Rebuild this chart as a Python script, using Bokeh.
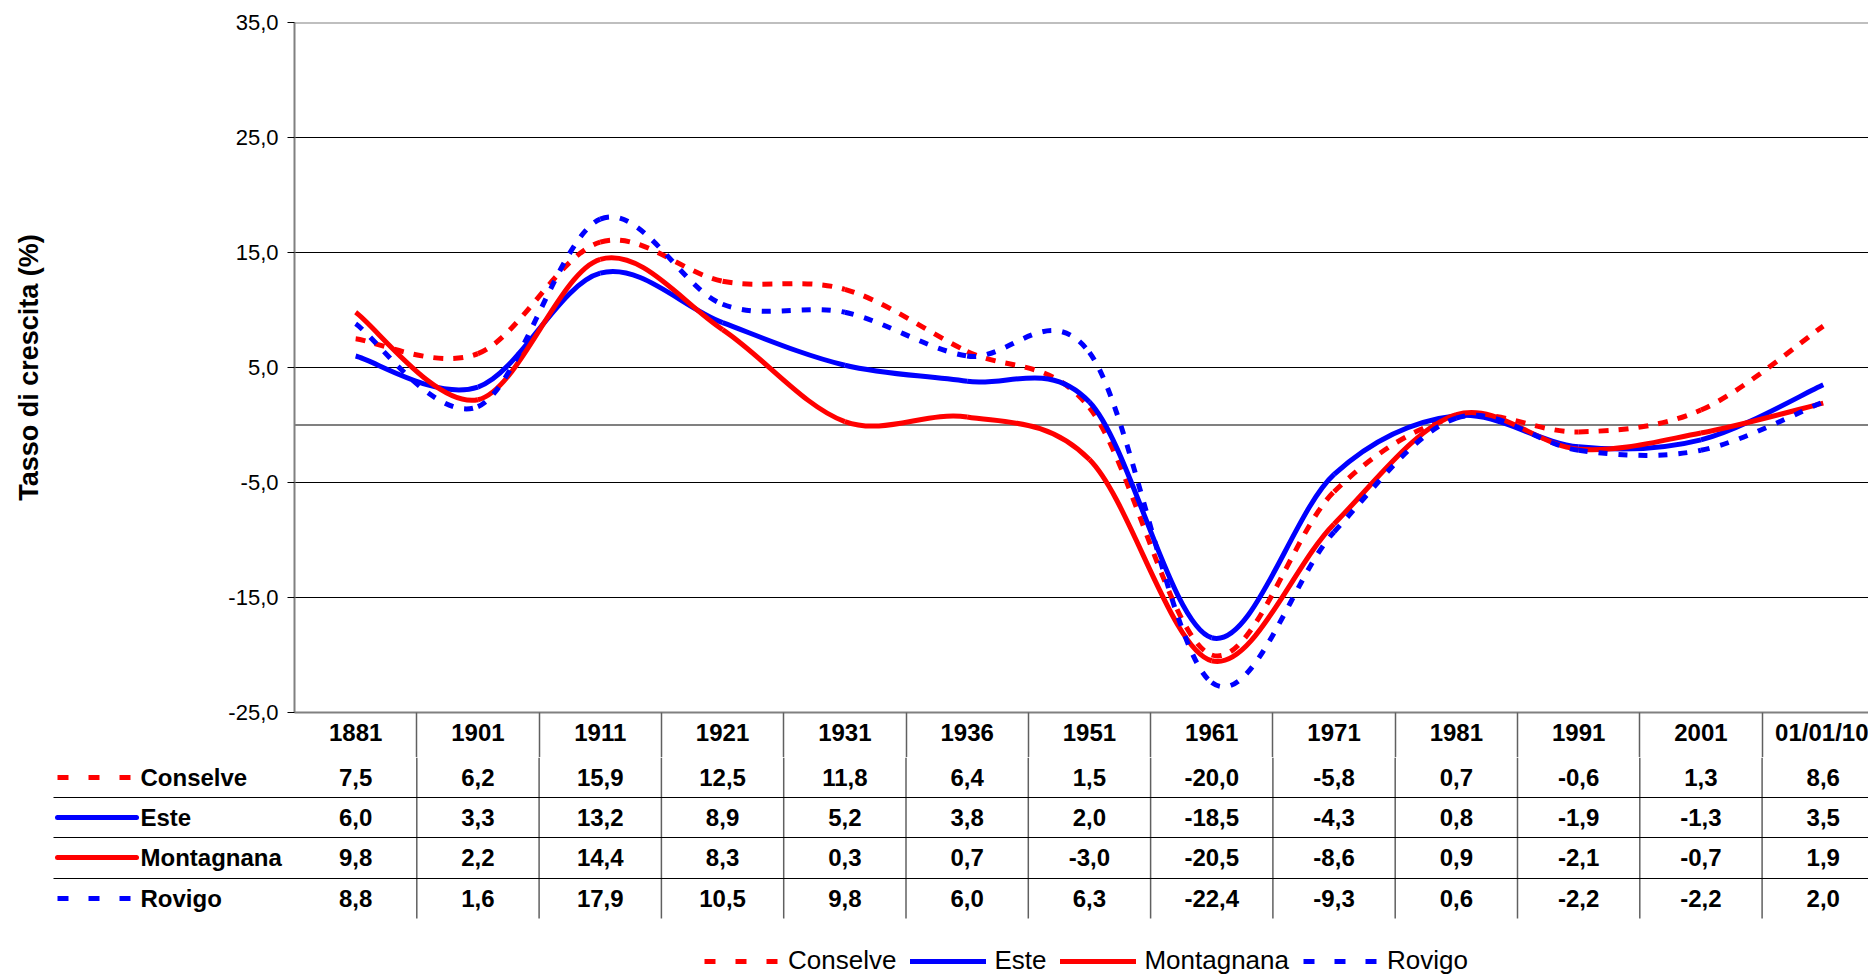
import numpy as np
from bokeh.plotting import figure
from bokeh.models import Range1d, FixedTicker, Span, Legend, LegendItem
from bokeh.embed import file_html
from bokeh.resources import INLINE
from bokeh.core.properties import value

# ---------------- data ----------------
categories = ["1881", "1901", "1911", "1921", "1931", "1936", "1951",
              "1961", "1971", "1981", "1991", "2001", "01/01/10"]
conselve = [7.5, 6.2, 15.9, 12.5, 11.8, 6.4, 1.5, -20.0, -5.8, 0.7, -0.6, 1.3, 8.6]
este = [6.0, 3.3, 13.2, 8.9, 5.2, 3.8, 2.0, -18.5, -4.3, 0.8, -1.9, -1.3, 3.5]
montagnana = [9.8, 2.2, 14.4, 8.3, 0.3, 0.7, -3.0, -20.5, -8.6, 0.9, -2.1, -0.7, 1.9]
rovigo = [8.8, 1.6, 17.9, 10.5, 9.8, 6.0, 6.3, -22.4, -9.3, 0.6, -2.2, -2.2, 2.0]
series_names = ["Conselve", "Este", "Montagnana", "Rovigo"]
series_values = [conselve, este, montagnana, rovigo]
y_ticks = [-25, -15, -5, 5, 15, 25, 35]
y_label = "Tasso di crescita (%)"

# ---------------- styles / layout ----------------
FONT = "Liberation Sans"
RED = "#FF0000"
BLUE = "#0000FF"
SEP = "#606060"
line_styles = [
    dict(color=RED, dash="10 10", key_dash="11 20", cap="butt"),
    dict(color=BLUE, dash="solid", key_dash="solid", cap="round"),
    dict(color=RED, dash="solid", key_dash="solid", cap="round"),
    dict(color=BLUE, dash="9 11", key_dash="11 20", cap="butt"),
]
W = 1868
FRAME_LEFT = 294          # page x of plot area left edge
FRAME_TOP = 22
FRAME_H = 690
COL_W = 122.3             # pixel width of a category column
HEADER_H = 45             # header row below plot area (part of chart figure)
HA = FRAME_TOP + FRAME_H + HEADER_H
TOP_B = HA                # page y where the table figure starts
HB = 975 - HA


def fmt(v):
    return f"{v:.1f}".replace(".", ",")


def bezier_parts(vals):
    x = np.arange(len(vals), dtype=float)
    y = np.asarray(vals, dtype=float)
    n = len(y)
    xp = np.concatenate([[x[0]], x, [x[-1]]])
    yp = np.concatenate([[y[0]], y, [y[-1]]])
    cx0 = x[:-1] + (xp[2:n + 1] - xp[0:n - 1]) / 6.0
    cy0 = y[:-1] + (yp[2:n + 1] - yp[0:n - 1]) / 6.0
    cx1 = x[1:] - (xp[3:n + 2] - xp[1:n]) / 6.0
    cy1 = y[1:] - (yp[3:n + 2] - yp[1:n]) / 6.0
    return dict(x0=x[:-1], y0=y[:-1], x1=x[1:], y1=y[1:],
                cx0=cx0, cy0=cy0, cx1=cx1, cy1=cy1)


idx = list(range(len(categories)))
bounds = [i + 0.5 for i in idx[:-1]]

# ---------------- chart figure ----------------
xa0 = -0.5
xa1 = xa0 + (W - FRAME_LEFT) / COL_W
p = figure(width=W, height=HA, x_range=Range1d(xa0, xa1), y_range=Range1d(-25, 35),
           output_backend="svg", toolbar_location=None,
           min_border_left=FRAME_LEFT, min_border_right=0,
           min_border_top=FRAME_TOP, min_border_bottom=HEADER_H)
p.outline_line_color = None
p.background_fill_color = "white"
p.xgrid.visible = False
p.ygrid.ticker = FixedTicker(ticks=y_ticks)
p.ygrid.grid_line_color = "black"
p.ygrid.grid_line_width = 1

ax = p.yaxis[0]
ax.ticker = FixedTicker(ticks=y_ticks)
ax.major_label_overrides = {t: fmt(t) for t in y_ticks}
ax.major_label_text_font = FONT
ax.major_label_text_font_size = "22px"
ax.major_label_text_color = "black"
ax.major_label_standoff = 9
ax.major_tick_out = 7
ax.major_tick_in = 0
ax.major_tick_line_color = "black"
ax.minor_tick_out = 0
ax.minor_tick_in = 0
ax.axis_line_color = "#808080"
ax.axis_line_width = 2
ax.axis_label = y_label
ax.axis_label_text_font = FONT
ax.axis_label_text_font_style = "bold"
ax.axis_label_text_font_size = "27px"
ax.axis_label_text_color = "black"
ax.axis_label_standoff = 181

# category axis: labels at column centres, column separators as minor ticks
xax = p.xaxis[0]
xax.ticker = FixedTicker(ticks=idx, minor_ticks=bounds)
xax.major_label_overrides = {i: c for i, c in zip(idx, categories)}
xax.major_label_text_font = FONT
xax.major_label_text_font_style = "bold"
xax.major_label_text_font_size = "24px"
xax.major_label_text_color = "black"
xax.major_label_standoff = 6 - HEADER_H
xax.major_tick_out = 0
xax.major_tick_in = 0
xax.major_tick_line_color = None
xax.minor_tick_out = HEADER_H
xax.minor_tick_in = 0
xax.minor_tick_line_color = SEP
xax.minor_tick_line_width = 1.5
xax.axis_line_color = "#808080"
xax.axis_line_width = 2

for loc in (35, 0):
    p.add_layout(Span(location=loc, dimension="width", line_color="#808080",
                      line_width=2, level="underlay"))

for vals, st in zip(series_values, line_styles):
    p.bezier(line_color=st["color"], line_width=5, line_dash=st["dash"],
             line_cap="butt", **bezier_parts(vals))

# ---------------- data table + legend figure ----------------
xb0 = xa0 - FRAME_LEFT / COL_W
xb1 = xb0 + W / COL_W
q = figure(width=W, height=HB, x_range=Range1d(xb0, xb1),
           y_range=Range1d(TOP_B + HB, TOP_B),
           output_backend="svg", toolbar_location=None,
           x_axis_location=None, y_axis_location=None, min_border=0)
q.extra_x_ranges = {"px": Range1d(0, W)}
q.outline_line_color = None
q.xgrid.visible = False
q.ygrid.visible = False

row_y = [777, 817, 857, 898]
row_lines = [797, 837, 878]

q.segment(x0=bounds, x1=bounds, y0=TOP_B, y1=918, line_color=SEP, line_width=1.5)
q.segment(x0=53, x1=W, y0=row_lines, y1=row_lines,
          line_color="black", line_width=1.2, x_range_name="px")

txt = dict(text_font=value(FONT), text_font_style="bold", text_font_size="24px",
           text_color="black", text_baseline="middle")

key_renderers = []
for name, vals, st, ry in zip(series_names, series_values, line_styles, row_y):
    q.text(x=idx, y=[ry] * len(idx), text=[fmt(v) for v in vals],
           text_align="center", **txt)
    q.text(x=[140], y=[ry], text=[name], text_align="left",
           x_range_name="px", **txt)
    r = q.line(x=[57, 136], y=[ry, ry], line_color=st["color"], line_width=5,
               line_dash=st["key_dash"], line_cap=st["cap"], x_range_name="px")
    key_renderers.append(r)

legend = Legend(items=[LegendItem(label=n, renderers=[r])
                       for n, r in zip(series_names, key_renderers)],
                orientation="horizontal", location=(704, -1),
                glyph_width=76, glyph_height=20, label_standoff=8, spacing=14,
                padding=0, margin=0, border_line_color=None,
                background_fill_alpha=0, label_text_font=FONT,
                label_text_font_size="26px", label_text_color="black",
                label_text_baseline="middle")
q.add_layout(legend)

open("out.html", "w").write(file_html([p, q], INLINE))
